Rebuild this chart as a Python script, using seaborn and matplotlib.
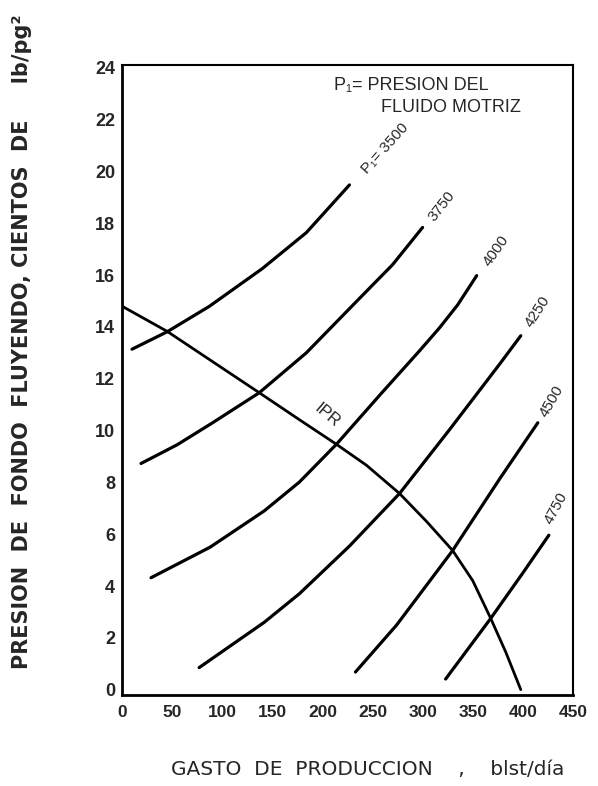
import numpy as np
import pandas as pd
import matplotlib
matplotlib.use("Agg")
import matplotlib.pyplot as plt
import seaborn as sns

# Production rate (blst/dia) and flowing bottom-hole pressure (hundreds of lb/pg2)
ipr_q = [0, 45, 137, 177, 214, 244, 277, 304, 330, 350, 368, 383, 398]
ipr_p = [14.8, 13.83, 11.46, 10.42, 9.47, 8.66, 7.57, 6.49, 5.37, 4.21, 2.75, 1.45, 0.0]

q_3500 = [10, 45, 87, 140, 184, 227]
p_3500 = [13.14, 13.81, 14.79, 16.25, 17.64, 19.48]

q_3750 = [19, 55, 90, 137, 184, 237, 270, 300]
p_3750 = [8.73, 9.45, 10.29, 11.46, 13.0, 15.1, 16.4, 17.84]

q_4000 = [29, 88, 142, 177, 214, 258, 297, 317, 335, 354]
p_4000 = [4.32, 5.5, 6.9, 8.01, 9.47, 11.4, 13.08, 13.97, 14.85, 15.98]

q_4250 = [77, 142, 177, 227, 277, 327, 377, 398]
p_4250 = [0.85, 2.6, 3.7, 5.54, 7.57, 10.04, 12.57, 13.66]

q_4500 = [233, 274, 330, 377, 415]
p_4500 = [0.68, 2.49, 5.37, 8.14, 10.3]

q_4750 = [323, 368, 400, 426]
p_4750 = [0.41, 2.75, 4.5, 5.96]

curve_names = ["3500", "3750", "4000", "4250", "4500", "4750"]
curve_labels = ["P\u2081= 3500", "3750", "4000", "4250", "4500", "4750"]
label_q = [263, 319, 373, 415, 429, 433]
label_p = [20.9, 18.67, 16.94, 14.6, 11.13, 7.0]
label_rot = [48, 52, 55, 57, 60, 62]

x_ticks = [0, 50, 100, 150, 200, 250, 300, 350, 400, 450]
y_ticks = [0, 2, 4, 6, 8, 10, 12, 14, 16, 18, 20, 22, 24]

sns.set_style("white")
plt.rcParams["font.family"] = ["Liberation Sans", "DejaVu Sans"]

frames = []
for name, q, p in zip(curve_names,
                      [q_3500, q_3750, q_4000, q_4250, q_4500, q_4750],
                      [p_3500, p_3750, p_4000, p_4250, p_4500, p_4750]):
    frames.append(pd.DataFrame({"q": q, "p": p, "curve": name}))
pump = pd.concat(frames, ignore_index=True)
ipr = pd.DataFrame({"q": ipr_q, "p": ipr_p})

fig = plt.figure(figsize=(5.98, 7.86), dpi=100)
ax = fig.add_axes([0.204, 0.116, 0.754, 0.801])

for name in curve_names:
    sub = pump[pump["curve"] == name]
    sns.lineplot(data=sub, x="q", y="p", sort=False, estimator=None,
                 color="black", linewidth=2.3, ax=ax)
sns.lineplot(data=ipr, x="q", y="p", sort=False, estimator=None,
             color="black", linewidth=2.0, ax=ax)

for txt, q, p, r in zip(curve_labels, label_q, label_p, label_rot):
    ax.text(q, p, txt, rotation=r, ha="center", va="center",
            fontsize=11, rotation_mode="anchor")
ax.text(205, 10.6, "IPR", rotation=-40, ha="center", va="center",
        fontsize=12, rotation_mode="anchor")

ax.text(212, 23.3, "P\u2081= PRESION DEL", fontsize=13, ha="left", va="center")
ax.text(258, 22.45, "FLUIDO MOTRIZ", fontsize=13, ha="left", va="center")

ax.set_xlim(0, 450)
ax.set_ylim(-0.2, 24.1)
ax.set_xticks(x_ticks)
ax.set_yticks(y_ticks)
ax.set_xticklabels([str(v) for v in x_ticks], fontsize=12.5, fontweight="bold")
ax.set_yticklabels([str(v) for v in y_ticks], fontsize=13, fontweight="bold")
ax.tick_params(axis="both", direction="in", length=9, width=1.6, pad=5,
               top=False, right=False)
ax.tick_params(axis="x", pad=7)
for side in ["left", "bottom", "top", "right"]:
    ax.spines[side].set_visible(True)
    ax.spines[side].set_color("black")
    ax.spines[side].set_linewidth(2.0 if side in ("left", "bottom") else 1.5)

ax.set_xlabel("")
ax.set_ylabel("")
fig.text(0.615, 0.021, "GASTO  DE  PRODUCCION    ,    blst/d\u00eda",
         ha="center", va="center", fontsize=14.5, family="DejaVu Sans")
fig.text(0.037, 0.565, "PRESION  DE  FONDO  FLUYENDO, CIENTOS  DE     lb/pg\u00b2",
         rotation=90, ha="center", va="center", fontsize=15,
         fontweight="bold", family="DejaVu Sans")

fig.savefig("out.png", dpi=100, facecolor="white")
